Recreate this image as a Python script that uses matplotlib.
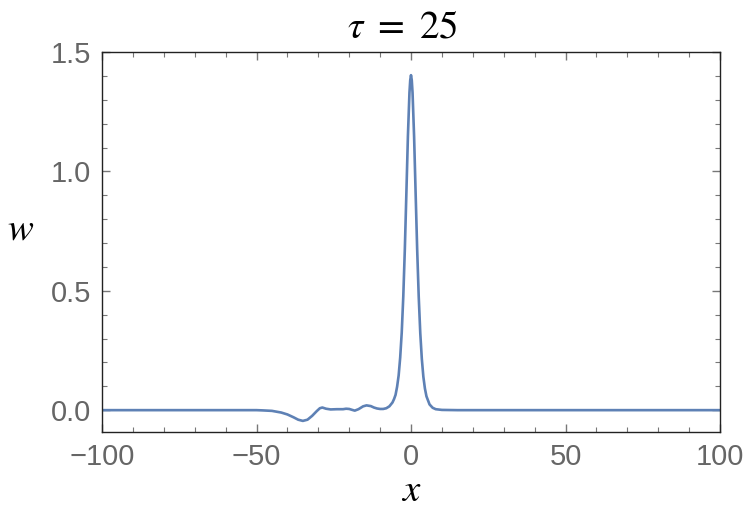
import matplotlib
matplotlib.use("Agg")
import matplotlib.pyplot as plt
from matplotlib import ticker

# data (tau = 25)
x_vals = [-100, -80, -60, -50, -48, -45, -42, -40, -38, -36.5, -35, -33.5,
          -32, -30.5, -29.5, -28.7, -27.5, -26, -24, -22, -21, -20, -19, -18.2,
          -17, -15.5, -14.4, -13, -12, -11, -10, -9, -8, -7, -6, -5.5, -5,
          -4.5, -4, -3.5, -3, -2.5, -2, -1.5, -1, -0.5, -0.25, 0, 0.25, 0.5,
          1, 1.5, 2, 2.5, 3, 3.5, 4, 4.5, 5, 6, 7, 8, 10, 15, 30, 60, 100]
w_vals = [0.0, 0.0, 0.0, 0.0, -0.001, -0.003, -0.01, -0.018, -0.03, -0.040,
          -0.045, -0.040, -0.024, -0.004, 0.008, 0.011, 0.006, 0.003, 0.004,
          0.004, 0.006, 0.005, 0.001, -0.002, 0.004, 0.016, 0.020, 0.017,
          0.011, 0.007, 0.005, 0.005, 0.008, 0.016, 0.032, 0.046, 0.064,
          0.098, 0.145, 0.220, 0.325, 0.475, 0.672, 0.907, 1.147, 1.330, 1.382,
          1.403, 1.382, 1.330, 1.147, 0.907, 0.672, 0.475, 0.323, 0.215, 0.140,
          0.091, 0.058, 0.024, 0.010, 0.004, 0.001, 0.0, 0.0, 0.0, 0.0]

x_ticks = [-100, -50, 0, 50, 100]
y_ticks = [0.0, 0.5, 1.0, 1.5]

plt.rcParams['mathtext.fontset'] = 'stix'

fig = plt.figure(figsize=(7.5, 5.2), dpi=100)
ax = fig.add_axes([0.136, 0.169, 0.824, 0.731])

ax.plot(x_vals, w_vals, color='#5E81B5', linewidth=1.9,
        solid_joinstyle='round', solid_capstyle='round')

ax.set_xlim(-100, 100)
ax.set_ylim(-0.092, 1.5)

ax.xaxis.set_major_locator(ticker.FixedLocator(x_ticks))
ax.xaxis.set_minor_locator(ticker.MultipleLocator(10))
ax.yaxis.set_major_locator(ticker.FixedLocator(y_ticks))
ax.yaxis.set_minor_locator(ticker.MultipleLocator(0.1))
ax.yaxis.set_major_formatter(ticker.FormatStrFormatter('%.1f'))

ax.tick_params(which='both', direction='in', top=True, right=True,
               color='#777777', labelcolor='#666666')
ax.tick_params(which='major', length=6, width=1.0, labelsize=21)
ax.tick_params(axis='x', which='major', pad=8)
ax.tick_params(axis='y', which='major', pad=8)
ax.tick_params(which='minor', length=3.5, width=0.8)
for lab in ax.get_xticklabels() + ax.get_yticklabels():
    lab.set_fontfamily('Liberation Sans')

for s in ax.spines.values():
    s.set_color('#222222')
    s.set_linewidth(1.0)

fig.text(0.027, 0.56, r'$w$', fontsize=28, ha='center', va='center')
fig.text(0.548, 0.057, r'$x$', fontsize=28, ha='center', va='center')
fig.text(0.537, 0.95, r'$\tau\ =\ 25$', fontsize=28, ha='center', va='center')

fig.savefig('out.png', dpi=100)
